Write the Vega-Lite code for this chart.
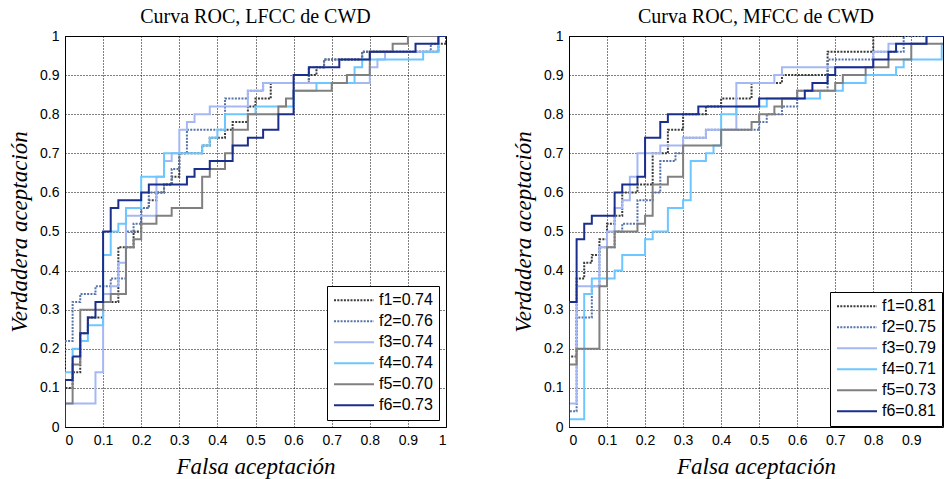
{
  "$schema": "https://vega.github.io/schema/vega-lite/v6.json",
  "background": "white",
  "padding": {"left": 8, "top": 6, "right": 0, "bottom": 0},
  "spacing": 123,
  "bounds": "flush",
  "resolve": {"scale": {"color": "independent", "strokeDash": "independent", "strokeWidth": "independent", "x": "independent", "y": "independent"}, "legend": {"color": "independent", "strokeDash": "independent", "strokeWidth": "independent"}},
  "config": {
    "view": {"stroke": "black", "strokeWidth": 1},
    "title": {"font": "Liberation Serif", "fontSize": 20, "fontWeight": "normal", "color": "black", "offset": 2},
    "axis": {
      "grid": true, "gridColor": "#000", "gridDash": [1, 2], "gridWidth": 1, "gridOpacity": 1,
      "domain": false, "ticks": false, "labelPadding": 6,
      "labelFont": "Liberation Sans", "labelFontSize": 14, "labelColor": "black",
      "titleFont": "Liberation Serif", "titleFontStyle": "italic", "titleFontWeight": "normal", "titleFontSize": 23, "titleColor": "black", "titlePadding": 8
    },
    "legend": {
      "orient": "bottom-right", "offset": 7, "title": null,
      "symbolType": "stroke", "symbolSize": 1600, "clipHeight": 16.5,
      "labelFont": "Liberation Sans", "labelFontSize": 16, "labelColor": "black",
      "strokeColor": "black", "fillColor": "white", "padding": 6, "rowPadding": 4
    }
  },
  "datasets": {
    "L": [
      {"s":"f1=0.74","x":0,"y":0},{"s":"f1=0.74","x":0,"y":0.10},{"s":"f1=0.74","x":0.02,"y":0.14},{"s":"f1=0.74","x":0.04,"y":0.24},{"s":"f1=0.74","x":0.06,"y":0.28},{"s":"f1=0.74","x":0.10,"y":0.32},{"s":"f1=0.74","x":0.14,"y":0.46},{"s":"f1=0.74","x":0.18,"y":0.50},{"s":"f1=0.74","x":0.20,"y":0.56},{"s":"f1=0.74","x":0.22,"y":0.58},{"s":"f1=0.74","x":0.24,"y":0.60},{"s":"f1=0.74","x":0.26,"y":0.62},{"s":"f1=0.74","x":0.28,"y":0.64},{"s":"f1=0.74","x":0.30,"y":0.70},{"s":"f1=0.74","x":0.36,"y":0.72},{"s":"f1=0.74","x":0.38,"y":0.74},{"s":"f1=0.74","x":0.42,"y":0.76},{"s":"f1=0.74","x":0.44,"y":0.78},{"s":"f1=0.74","x":0.48,"y":0.82},{"s":"f1=0.74","x":0.50,"y":0.84},{"s":"f1=0.74","x":0.54,"y":0.88},{"s":"f1=0.74","x":0.64,"y":0.90},{"s":"f1=0.74","x":0.66,"y":0.92},{"s":"f1=0.74","x":0.68,"y":0.94},{"s":"f1=0.74","x":0.78,"y":0.96},{"s":"f1=0.74","x":0.98,"y":0.98},{"s":"f1=0.74","x":1,"y":1},
      {"s":"f2=0.76","x":0,"y":0},{"s":"f2=0.76","x":0,"y":0.22},{"s":"f2=0.76","x":0.02,"y":0.32},{"s":"f2=0.76","x":0.04,"y":0.34},{"s":"f2=0.76","x":0.08,"y":0.36},{"s":"f2=0.76","x":0.12,"y":0.38},{"s":"f2=0.76","x":0.16,"y":0.50},{"s":"f2=0.76","x":0.18,"y":0.52},{"s":"f2=0.76","x":0.20,"y":0.56},{"s":"f2=0.76","x":0.22,"y":0.60},{"s":"f2=0.76","x":0.26,"y":0.62},{"s":"f2=0.76","x":0.28,"y":0.66},{"s":"f2=0.76","x":0.30,"y":0.70},{"s":"f2=0.76","x":0.32,"y":0.76},{"s":"f2=0.76","x":0.42,"y":0.84},{"s":"f2=0.76","x":0.48,"y":0.86},{"s":"f2=0.76","x":0.52,"y":0.88},{"s":"f2=0.76","x":0.64,"y":0.92},{"s":"f2=0.76","x":0.68,"y":0.94},{"s":"f2=0.76","x":0.78,"y":0.96},{"s":"f2=0.76","x":0.96,"y":0.98},{"s":"f2=0.76","x":0.98,"y":1},{"s":"f2=0.76","x":1,"y":1},
      {"s":"f3=0.74","x":0,"y":0},{"s":"f3=0.74","x":0,"y":0.06},{"s":"f3=0.74","x":0.08,"y":0.14},{"s":"f3=0.74","x":0.10,"y":0.34},{"s":"f3=0.74","x":0.12,"y":0.36},{"s":"f3=0.74","x":0.14,"y":0.42},{"s":"f3=0.74","x":0.16,"y":0.54},{"s":"f3=0.74","x":0.24,"y":0.64},{"s":"f3=0.74","x":0.26,"y":0.68},{"s":"f3=0.74","x":0.28,"y":0.70},{"s":"f3=0.74","x":0.30,"y":0.76},{"s":"f3=0.74","x":0.32,"y":0.78},{"s":"f3=0.74","x":0.34,"y":0.80},{"s":"f3=0.74","x":0.38,"y":0.82},{"s":"f3=0.74","x":0.48,"y":0.86},{"s":"f3=0.74","x":0.52,"y":0.88},{"s":"f3=0.74","x":0.80,"y":0.92},{"s":"f3=0.74","x":0.82,"y":0.94},{"s":"f3=0.74","x":0.84,"y":0.96},{"s":"f3=0.74","x":0.98,"y":1},{"s":"f3=0.74","x":1,"y":1},
      {"s":"f4=0.74","x":0,"y":0},{"s":"f4=0.74","x":0,"y":0.14},{"s":"f4=0.74","x":0.02,"y":0.20},{"s":"f4=0.74","x":0.04,"y":0.22},{"s":"f4=0.74","x":0.06,"y":0.26},{"s":"f4=0.74","x":0.10,"y":0.44},{"s":"f4=0.74","x":0.12,"y":0.50},{"s":"f4=0.74","x":0.14,"y":0.52},{"s":"f4=0.74","x":0.16,"y":0.56},{"s":"f4=0.74","x":0.20,"y":0.64},{"s":"f4=0.74","x":0.26,"y":0.70},{"s":"f4=0.74","x":0.36,"y":0.72},{"s":"f4=0.74","x":0.38,"y":0.74},{"s":"f4=0.74","x":0.40,"y":0.76},{"s":"f4=0.74","x":0.42,"y":0.80},{"s":"f4=0.74","x":0.50,"y":0.82},{"s":"f4=0.74","x":0.60,"y":0.86},{"s":"f4=0.74","x":0.66,"y":0.88},{"s":"f4=0.74","x":0.76,"y":0.92},{"s":"f4=0.74","x":0.78,"y":0.94},{"s":"f4=0.74","x":0.94,"y":0.96},{"s":"f4=0.74","x":0.98,"y":1},{"s":"f4=0.74","x":1,"y":1},
      {"s":"f5=0.70","x":0,"y":0},{"s":"f5=0.70","x":0,"y":0.06},{"s":"f5=0.70","x":0.02,"y":0.16},{"s":"f5=0.70","x":0.04,"y":0.30},{"s":"f5=0.70","x":0.10,"y":0.32},{"s":"f5=0.70","x":0.12,"y":0.34},{"s":"f5=0.70","x":0.16,"y":0.46},{"s":"f5=0.70","x":0.18,"y":0.48},{"s":"f5=0.70","x":0.20,"y":0.52},{"s":"f5=0.70","x":0.24,"y":0.54},{"s":"f5=0.70","x":0.28,"y":0.56},{"s":"f5=0.70","x":0.36,"y":0.64},{"s":"f5=0.70","x":0.38,"y":0.66},{"s":"f5=0.70","x":0.42,"y":0.70},{"s":"f5=0.70","x":0.44,"y":0.76},{"s":"f5=0.70","x":0.48,"y":0.80},{"s":"f5=0.70","x":0.56,"y":0.82},{"s":"f5=0.70","x":0.58,"y":0.84},{"s":"f5=0.70","x":0.60,"y":0.86},{"s":"f5=0.70","x":0.70,"y":0.88},{"s":"f5=0.70","x":0.74,"y":0.90},{"s":"f5=0.70","x":0.80,"y":0.96},{"s":"f5=0.70","x":0.86,"y":0.98},{"s":"f5=0.70","x":0.90,"y":1},{"s":"f5=0.70","x":1,"y":1},
      {"s":"f6=0.73","x":0,"y":0},{"s":"f6=0.73","x":0,"y":0.12},{"s":"f6=0.73","x":0.02,"y":0.18},{"s":"f6=0.73","x":0.04,"y":0.24},{"s":"f6=0.73","x":0.06,"y":0.28},{"s":"f6=0.73","x":0.08,"y":0.32},{"s":"f6=0.73","x":0.10,"y":0.50},{"s":"f6=0.73","x":0.12,"y":0.56},{"s":"f6=0.73","x":0.14,"y":0.58},{"s":"f6=0.73","x":0.20,"y":0.60},{"s":"f6=0.73","x":0.22,"y":0.62},{"s":"f6=0.73","x":0.32,"y":0.64},{"s":"f6=0.73","x":0.34,"y":0.66},{"s":"f6=0.73","x":0.38,"y":0.68},{"s":"f6=0.73","x":0.44,"y":0.72},{"s":"f6=0.73","x":0.48,"y":0.74},{"s":"f6=0.73","x":0.52,"y":0.76},{"s":"f6=0.73","x":0.56,"y":0.80},{"s":"f6=0.73","x":0.60,"y":0.90},{"s":"f6=0.73","x":0.64,"y":0.92},{"s":"f6=0.73","x":0.72,"y":0.94},{"s":"f6=0.73","x":0.80,"y":0.96},{"s":"f6=0.73","x":0.92,"y":0.98},{"s":"f6=0.73","x":0.98,"y":1},{"s":"f6=0.73","x":1,"y":1}
    ],
    "R": [
      {"s":"f1=0.81","x":0,"y":0},{"s":"f1=0.81","x":0,"y":0.18},{"s":"f1=0.81","x":0.02,"y":0.38},{"s":"f1=0.81","x":0.04,"y":0.42},{"s":"f1=0.81","x":0.06,"y":0.44},{"s":"f1=0.81","x":0.08,"y":0.48},{"s":"f1=0.81","x":0.10,"y":0.52},{"s":"f1=0.81","x":0.12,"y":0.54},{"s":"f1=0.81","x":0.14,"y":0.60},{"s":"f1=0.81","x":0.18,"y":0.62},{"s":"f1=0.81","x":0.22,"y":0.70},{"s":"f1=0.81","x":0.26,"y":0.76},{"s":"f1=0.81","x":0.30,"y":0.80},{"s":"f1=0.81","x":0.36,"y":0.82},{"s":"f1=0.81","x":0.40,"y":0.84},{"s":"f1=0.81","x":0.48,"y":0.88},{"s":"f1=0.81","x":0.56,"y":0.90},{"s":"f1=0.81","x":0.68,"y":0.96},{"s":"f1=0.81","x":0.80,"y":1},{"s":"f1=0.81","x":1,"y":1},
      {"s":"f2=0.75","x":0,"y":0},{"s":"f2=0.75","x":0,"y":0.04},{"s":"f2=0.75","x":0.02,"y":0.28},{"s":"f2=0.75","x":0.06,"y":0.36},{"s":"f2=0.75","x":0.08,"y":0.46},{"s":"f2=0.75","x":0.12,"y":0.50},{"s":"f2=0.75","x":0.14,"y":0.52},{"s":"f2=0.75","x":0.18,"y":0.58},{"s":"f2=0.75","x":0.22,"y":0.60},{"s":"f2=0.75","x":0.24,"y":0.68},{"s":"f2=0.75","x":0.28,"y":0.70},{"s":"f2=0.75","x":0.30,"y":0.74},{"s":"f2=0.75","x":0.36,"y":0.76},{"s":"f2=0.75","x":0.50,"y":0.78},{"s":"f2=0.75","x":0.52,"y":0.80},{"s":"f2=0.75","x":0.56,"y":0.82},{"s":"f2=0.75","x":0.60,"y":0.86},{"s":"f2=0.75","x":0.68,"y":0.94},{"s":"f2=0.75","x":0.80,"y":0.96},{"s":"f2=0.75","x":0.88,"y":1},{"s":"f2=0.75","x":1,"y":1},
      {"s":"f3=0.79","x":0,"y":0},{"s":"f3=0.79","x":0,"y":0.06},{"s":"f3=0.79","x":0.02,"y":0.36},{"s":"f3=0.79","x":0.08,"y":0.46},{"s":"f3=0.79","x":0.10,"y":0.50},{"s":"f3=0.79","x":0.12,"y":0.56},{"s":"f3=0.79","x":0.14,"y":0.58},{"s":"f3=0.79","x":0.16,"y":0.64},{"s":"f3=0.79","x":0.18,"y":0.70},{"s":"f3=0.79","x":0.24,"y":0.72},{"s":"f3=0.79","x":0.30,"y":0.74},{"s":"f3=0.79","x":0.36,"y":0.76},{"s":"f3=0.79","x":0.44,"y":0.88},{"s":"f3=0.79","x":0.54,"y":0.90},{"s":"f3=0.79","x":0.56,"y":0.92},{"s":"f3=0.79","x":0.80,"y":0.96},{"s":"f3=0.79","x":0.84,"y":0.98},{"s":"f3=0.79","x":0.94,"y":1},{"s":"f3=0.79","x":1,"y":1},
      {"s":"f4=0.71","x":0,"y":0},{"s":"f4=0.71","x":0,"y":0.02},{"s":"f4=0.71","x":0.04,"y":0.34},{"s":"f4=0.71","x":0.06,"y":0.38},{"s":"f4=0.71","x":0.12,"y":0.40},{"s":"f4=0.71","x":0.14,"y":0.44},{"s":"f4=0.71","x":0.20,"y":0.48},{"s":"f4=0.71","x":0.22,"y":0.50},{"s":"f4=0.71","x":0.26,"y":0.56},{"s":"f4=0.71","x":0.30,"y":0.58},{"s":"f4=0.71","x":0.32,"y":0.68},{"s":"f4=0.71","x":0.36,"y":0.70},{"s":"f4=0.71","x":0.38,"y":0.72},{"s":"f4=0.71","x":0.40,"y":0.80},{"s":"f4=0.71","x":0.44,"y":0.82},{"s":"f4=0.71","x":0.52,"y":0.84},{"s":"f4=0.71","x":0.66,"y":0.86},{"s":"f4=0.71","x":0.72,"y":0.88},{"s":"f4=0.71","x":0.78,"y":0.90},{"s":"f4=0.71","x":0.86,"y":0.92},{"s":"f4=0.71","x":0.88,"y":0.94},{"s":"f4=0.71","x":0.98,"y":0.98},{"s":"f4=0.71","x":1,"y":1},
      {"s":"f5=0.73","x":0,"y":0},{"s":"f5=0.73","x":0,"y":0.16},{"s":"f5=0.73","x":0.02,"y":0.20},{"s":"f5=0.73","x":0.08,"y":0.36},{"s":"f5=0.73","x":0.10,"y":0.46},{"s":"f5=0.73","x":0.12,"y":0.50},{"s":"f5=0.73","x":0.18,"y":0.52},{"s":"f5=0.73","x":0.20,"y":0.54},{"s":"f5=0.73","x":0.22,"y":0.62},{"s":"f5=0.73","x":0.26,"y":0.64},{"s":"f5=0.73","x":0.30,"y":0.72},{"s":"f5=0.73","x":0.40,"y":0.76},{"s":"f5=0.73","x":0.48,"y":0.78},{"s":"f5=0.73","x":0.50,"y":0.80},{"s":"f5=0.73","x":0.54,"y":0.82},{"s":"f5=0.73","x":0.56,"y":0.84},{"s":"f5=0.73","x":0.60,"y":0.86},{"s":"f5=0.73","x":0.70,"y":0.88},{"s":"f5=0.73","x":0.72,"y":0.90},{"s":"f5=0.73","x":0.78,"y":0.92},{"s":"f5=0.73","x":0.84,"y":0.94},{"s":"f5=0.73","x":0.90,"y":0.98},{"s":"f5=0.73","x":1,"y":1},
      {"s":"f6=0.81","x":0,"y":0},{"s":"f6=0.81","x":0,"y":0.32},{"s":"f6=0.81","x":0.02,"y":0.48},{"s":"f6=0.81","x":0.04,"y":0.52},{"s":"f6=0.81","x":0.06,"y":0.54},{"s":"f6=0.81","x":0.12,"y":0.60},{"s":"f6=0.81","x":0.14,"y":0.62},{"s":"f6=0.81","x":0.18,"y":0.64},{"s":"f6=0.81","x":0.20,"y":0.74},{"s":"f6=0.81","x":0.24,"y":0.78},{"s":"f6=0.81","x":0.26,"y":0.80},{"s":"f6=0.81","x":0.34,"y":0.82},{"s":"f6=0.81","x":0.50,"y":0.84},{"s":"f6=0.81","x":0.62,"y":0.86},{"s":"f6=0.81","x":0.64,"y":0.88},{"s":"f6=0.81","x":0.68,"y":0.90},{"s":"f6=0.81","x":0.70,"y":0.92},{"s":"f6=0.81","x":0.80,"y":0.94},{"s":"f6=0.81","x":0.84,"y":0.96},{"s":"f6=0.81","x":0.86,"y":0.98},{"s":"f6=0.81","x":0.94,"y":1},{"s":"f6=0.81","x":1,"y":1}
    ]
  },
  "hconcat": [
    {
      "title": "Curva ROC, LFCC de CWD",
      "width": 381, "height": 391,
      "data": {"name": "L"},
      "mark": {"type": "line", "interpolate": "step-after", "clip": true},
      "encoding": {
        "x": {"field": "x", "type": "quantitative", "scale": {"domain": [0, 1], "nice": false, "zero": false}, "axis": {"values": [0,0.1,0.2,0.3,0.4,0.5,0.6,0.7,0.8,0.9,1], "format": "~g", "title": "Falsa aceptación"}},
        "y": {"field": "y", "type": "quantitative", "scale": {"domain": [0, 1], "nice": false}, "axis": {"values": [0,0.1,0.2,0.3,0.4,0.5,0.6,0.7,0.8,0.9,1], "format": "~g", "title": "Verdadera aceptación"}},
        "color": {"field": "s", "type": "nominal", "scale": {"domain": ["f1=0.74","f2=0.76","f3=0.74","f4=0.74","f5=0.70","f6=0.73"], "range": ["#3a3a3a","#5673aa","#a6b8f4","#6cc6ff","#808080","#1a2e8c"]}},
        "strokeDash": {"field": "s", "type": "nominal", "scale": {"domain": ["f1=0.74","f2=0.76","f3=0.74","f4=0.74","f5=0.70","f6=0.73"], "range": [[2,1.3],[2,1.3],[1,0],[1,0],[1,0],[1,0]]}},
        "strokeWidth": {"field": "s", "type": "nominal", "scale": {"domain": ["f1=0.74","f2=0.76","f3=0.74","f4=0.74","f5=0.70","f6=0.73"], "range": [2,2,2.8,2.8,2.8,2.8]}},
        "order": [{"field": "x", "type": "quantitative"}, {"field": "y", "type": "quantitative"}]
      }
    },
    {
      "title": "Curva ROC, MFCC de CWD",
      "width": 374, "height": 391,
      "data": {"name": "R"},
      "mark": {"type": "line", "interpolate": "step-after", "clip": true},
      "encoding": {
        "x": {"field": "x", "type": "quantitative", "scale": {"domain": [0, 0.9834], "nice": false, "zero": false}, "axis": {"values": [0,0.1,0.2,0.3,0.4,0.5,0.6,0.7,0.8,0.9], "format": "~g", "title": "Falsa aceptación"}},
        "y": {"field": "y", "type": "quantitative", "scale": {"domain": [0, 1], "nice": false}, "axis": {"values": [0,0.1,0.2,0.3,0.4,0.5,0.6,0.7,0.8,0.9,1], "format": "~g", "title": "Verdadera aceptación"}},
        "color": {"field": "s", "type": "nominal", "scale": {"domain": ["f1=0.81","f2=0.75","f3=0.79","f4=0.71","f5=0.73","f6=0.81"], "range": ["#3a3a3a","#5673aa","#a6b8f4","#6cc6ff","#808080","#1a2e8c"]}, "legend": {"offset": 1}},
        "strokeDash": {"field": "s", "type": "nominal", "scale": {"domain": ["f1=0.81","f2=0.75","f3=0.79","f4=0.71","f5=0.73","f6=0.81"], "range": [[2,1.3],[2,1.3],[1,0],[1,0],[1,0],[1,0]]}, "legend": {"offset": 1}},
        "strokeWidth": {"field": "s", "type": "nominal", "scale": {"domain": ["f1=0.81","f2=0.75","f3=0.79","f4=0.71","f5=0.73","f6=0.81"], "range": [2,2,2.8,2.8,2.8,2.8]}, "legend": {"offset": 1}},
        "order": [{"field": "x", "type": "quantitative"}, {"field": "y", "type": "quantitative"}]
      }
    }
  ]
}
